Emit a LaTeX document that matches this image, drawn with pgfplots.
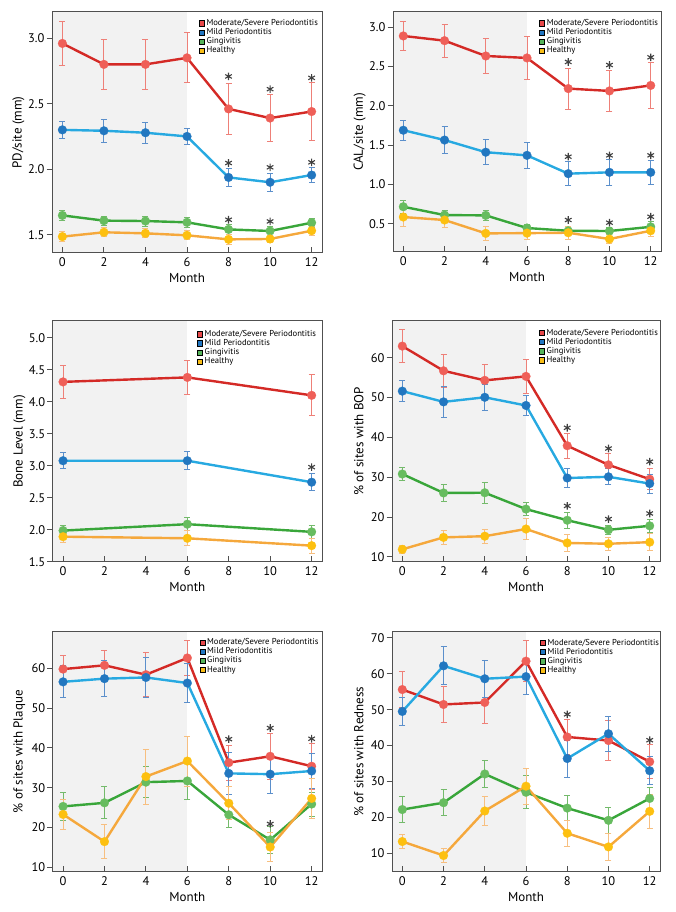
\documentclass[border=0pt]{standalone}
\usepackage{fontspec}
\setmainfont{PT Sans}
\usepackage{pgfplots}
\usepackage{pgfplotstable}
\pgfplotsset{compat=1.18}

\definecolor{redL}{HTML}{D42A26}
\definecolor{redM}{HTML}{EF5F58}
\definecolor{redE}{HTML}{EE8078}
\definecolor{bluL}{HTML}{27A9E1}
\definecolor{bluM}{HTML}{2277C0}
\definecolor{bluE}{HTML}{5B8FCB}
\definecolor{grnL}{HTML}{39A63A}
\definecolor{grnM}{HTML}{67BC5F}
\definecolor{grnE}{HTML}{74BA6B}
\definecolor{oraL}{HTML}{F5A83C}
\definecolor{oraM}{HTML}{FDC010}
\definecolor{oraE}{HTML}{F7BF80}
\definecolor{legR}{HTML}{E8484A}
\definecolor{legB}{HTML}{2176C2}
\definecolor{legG}{HTML}{56B45A}
\definecolor{legO}{HTML}{F9BE17}
\definecolor{shadeC}{HTML}{F2F2F2}
\definecolor{frameC}{HTML}{505050}

% PD/site
\pgfplotstableread{
x r re b be g ge o oe
0 2.96 0.17 2.30 0.067 1.647 0.037 1.485 0.04
2 2.80 0.19 2.293 0.089 1.607 0.035 1.518 0.035
4 2.80 0.19 2.278 0.079 1.604 0.038 1.51 0.035
6 2.85 0.19 2.25 0.062 1.594 0.038 1.495 0.035
8 2.46 0.195 1.937 0.067 1.54 0.035 1.464 0.035
10 2.39 0.18 1.90 0.07 1.528 0.035 1.467 0.03
12 2.44 0.22 1.955 0.057 1.591 0.035 1.53 0.035
}\tPD
% CAL/site
\pgfplotstableread{
x r re b be g ge o oe
0 2.89 0.19 1.69 0.13 0.716 0.08 0.585 0.12
2 2.83 0.21 1.565 0.17 0.61 0.065 0.547 0.10
4 2.635 0.22 1.41 0.16 0.606 0.06 0.377 0.09
6 2.61 0.27 1.37 0.165 0.445 0.05 0.38 0.08
8 2.22 0.26 1.137 0.15 0.41 0.05 0.385 0.08
10 2.19 0.26 1.154 0.165 0.407 0.05 0.305 0.06
12 2.26 0.29 1.154 0.15 0.46 0.065 0.41 0.07
}\tCAL
% Bone level
\pgfplotstableread{
x r re b be g ge o oe
0 4.31 0.255 3.08 0.125 1.99 0.085 1.895 0.09
6 4.38 0.27 3.08 0.14 2.09 0.10 1.87 0.115
12 4.10 0.32 2.745 0.135 1.97 0.105 1.755 0.115
}\tBL
% BOP
\pgfplotstableread{
x r re b be g ge o oe
0 62.9 4.1 51.6 2.7 30.8 1.7 11.9 1.1
2 56.7 4.2 48.9 3.8 26.05 2.1 14.9 1.75
4 54.3 4.0 50.05 3.3 26.1 2.7 15.2 1.7
6 55.3 4.2 48.0 2.6 22.0 1.6 17.0 2.6
8 37.9 3.2 29.8 2.3 19.2 2.0 13.5 2.2
10 33.1 2.9 30.1 2.0 16.8 1.2 13.3 1.7
12 29.5 2.6 28.4 2.4 17.8 1.6 13.7 2.1
}\tBOP
% Plaque
\pgfplotstableread{
x r re b be g ge o oe
0 59.8 3.5 56.6 4.0 25.3 3.55 23.3 3.75
2 60.75 3.7 57.4 4.45 26.2 4.0 16.45 4.2
4 58.4 5.5 57.7 5.05 31.4 3.9 32.8 6.9
6 62.6 4.4 56.3 4.9 31.7 4.6 36.7 6.3
8 36.3 4.4 33.6 5.3 23.2 3.3 26.1 4.1
10 37.9 5.7 33.4 4.9 16.9 3.3 15.1 3.7
12 35.4 5.8 34.2 4.5 25.9 3.0 27.3 5.0
}\tPL
% Redness
\pgfplotstableread{
x r re b be g ge o oe
0 55.6 5.0 49.5 4.0 22.2 3.7 13.3 2.0
2 51.45 5.0 62.2 5.3 24.1 3.65 9.4 2.05
4 52.0 5.8 58.6 5.2 32.1 3.8 21.8 4.0
6 63.5 5.7 59.2 5.05 27.0 4.55 28.7 5.0
8 42.4 5.0 36.4 5.15 22.6 3.4 15.6 3.7
10 41.4 5.6 43.3 4.8 19.2 3.65 11.8 3.85
12 35.5 4.75 33.0 3.9 25.3 3.0 21.7 4.65
}\tRD

\newcommand{\series}[4]{%
  \addplot[forget plot, draw=none, mark=none,
    error bars/.cd, y dir=both, y explicit,
    error bar style={#1E, line width=0.9pt},
    error mark options={#1E, rotate=90, mark size=3pt, line width=0.9pt}]
    table[x=x, y=#3, y error=#4] {#2};
  \addplot[forget plot, #1L, line width=2.4pt, mark=*, mark size=4.4pt,
    mark options={fill=#1M, draw=#1M, line width=0.2pt}]
    table[x=x, y=#3] {#2};
}
\newcommand{\allseries}[1]{%
  \series{red}{#1}{r}{re}
  \series{blu}{#1}{b}{be}
  \series{grn}{#1}{g}{ge}
  \series{ora}{#1}{o}{oe}
}
\newcommand{\legendfour}{%
  \addlegendimage{fill=legR}\addlegendentry{Moderate/Severe Periodontitis}
  \addlegendimage{fill=legB}\addlegendentry{Mild Periodontitis}
  \addlegendimage{fill=legG}\addlegendentry{Gingivitis}
  \addlegendimage{fill=legO}\addlegendentry{Healthy}
}
\newcommand{\shadebg}[2]{%
  \begin{pgfonlayer}{axis background}
    \fill[shadeC] (axis cs:-0.5,#1) rectangle (axis cs:6,#2);
  \end{pgfonlayer}
}
\newcommand{\stars}[1]{%
  \addplot[forget plot, only marks, mark=asterisk, mark size=3.8pt,
    mark options={line width=1.1pt, draw=black!75}] coordinates {#1};
}

\pgfplotsset{
  panel/.style={
    set layers,
    scale only axis, anchor=south west,
    xmin=-0.5, xmax=12.5, xtick={0,2,...,12},
    tick align=inside, tick pos=left,
    major tick length=5.5pt,
    every tick/.style={frameC, line width=1pt},
    every y tick/.append style={xshift=-5.5pt},
    axis line style={frameC, line width=1pt},
    tick label style={font=\fontsize{12.5}{13}\selectfont},
    /pgf/number format/assume math mode=true,
    yticklabel style={xshift=-4pt},
    xticklabel style={yshift=-1.5pt},
    label style={font=\fontsize{13}{14}\selectfont},
    xlabel={Month},
    xlabel style={at={(axis description cs:0.5,-0.104)}, anchor=center},
    ylabel style={at={(axis description cs:-0.124,0.5)}, anchor=center},
    legend image code/.code={\fill[##1] (0pt,-2.6pt) rectangle (5.2pt,2.6pt);},
    legend cell align=left,
    legend style={draw=none, fill=none, inner sep=0pt,
      font=\fontsize{8.6}{9}\selectfont,
      nodes={inner sep=0.4pt, text height=6.5pt, text depth=1.8pt},
      /tikz/every odd column/.append style={column sep=1.5pt},
      anchor=north west},
  },
  onedec/.style={yticklabel style={/pgf/number format/.cd, fixed, fixed zerofill, precision=1}},
}

\begin{document}
\begin{tikzpicture}
\path (0,0) rectangle (675pt,912pt);

% Panel 1: PD/site
\begin{axis}[panel, onedec, at={(52pt,659pt)}, width=270pt, height=241pt,
  ymin=1.36, ymax=3.2, ytick={1.5,2.0,2.5,3.0},
  ylabel={PD/site (mm)},
  legend style={at={(axis description cs:0.544,0.973)}}]
  \shadebg{1.36}{3.2}
  \allseries{\tPD}
  \stars{(8,2.708) (10,2.611) (12,2.697) (8,2.047) (10,2.014) (12,2.052) (8,1.614) (10,1.601)}
  \legendfour
\end{axis}

% Panel 2: CAL/site
\begin{axis}[panel, onedec, at={(393pt,660pt)}, width=268pt, height=240pt,
  ymin=0.14, ymax=3.195, ytick={0.5,1.0,1.5,2.0,2.5,3.0},
  ylabel={CAL/site (mm)},
  legend style={at={(axis description cs:0.545,0.973)}}]
  \shadebg{0.14}{3.195}
  \allseries{\tCAL}
  \stars{(8,2.559) (10,2.52) (12,2.618) (8,1.353) (10,1.37) (12,1.37) (8,0.547) (10,0.513) (12,0.589)}
  \legendfour
\end{axis}

% Panel 3: Bone level
\begin{axis}[panel, onedec, at={(52.7pt,350pt)}, width=269.3pt, height=241pt,
  ymin=1.5, ymax=5.26, ytick={1.5,2.0,...,5.0},
  ylabel={Bone Level (mm)},
  legend style={at={(axis description cs:0.536,0.965)}}]
  \shadebg{1.5}{5.26}
  \allseries{\tBL}
  \stars{(12,2.98)}
  \legendfour
\end{axis}

% Panel 4: BOP
\begin{axis}[panel, at={(392pt,350.3pt)}, width=268pt, height=240.7pt,
  ymin=8.8, ymax=69.2, ytick={10,20,...,60},
  ylabel={\% of sites with BOP},
  legend style={at={(axis description cs:0.548,0.97)}}]
  \shadebg{8.8}{69.2}
  \allseries{\tBOP}
  \stars{(8,42.4) (10,37.2) (12,33.9) (8,22.8) (10,19.5) (12,20.9)}
  \legendfour
\end{axis}

% Panel 5: Plaque
\begin{axis}[panel, at={(52.7pt,40.3pt)}, width=269.3pt, height=240pt,
  ymin=8.9, ymax=69.2, ytick={10,20,...,60},
  ylabel={\% of sites with Plaque},
  legend style={at={(axis description cs:0.545,0.975)}}]
  \shadebg{8.9}{69.2}
  \allseries{\tPL}
  \stars{(8,42.2) (10,45.0) (12,42.3) (10,20.9)}
  \legendfour
\end{axis}

% Panel 6: Redness
\begin{axis}[panel, at={(392pt,40.3pt)}, width=268pt, height=240pt,
  ymin=4.9, ymax=71.7, ytick={10,20,...,70},
  ylabel={\% of sites with Redness},
  legend style={at={(axis description cs:0.552,0.973)}}]
  \shadebg{4.9}{71.7}
  \allseries{\tRD}
  \stars{(8,48.7) (12,41.5)}
  \legendfour
\end{axis}
\end{tikzpicture}
\end{document}
